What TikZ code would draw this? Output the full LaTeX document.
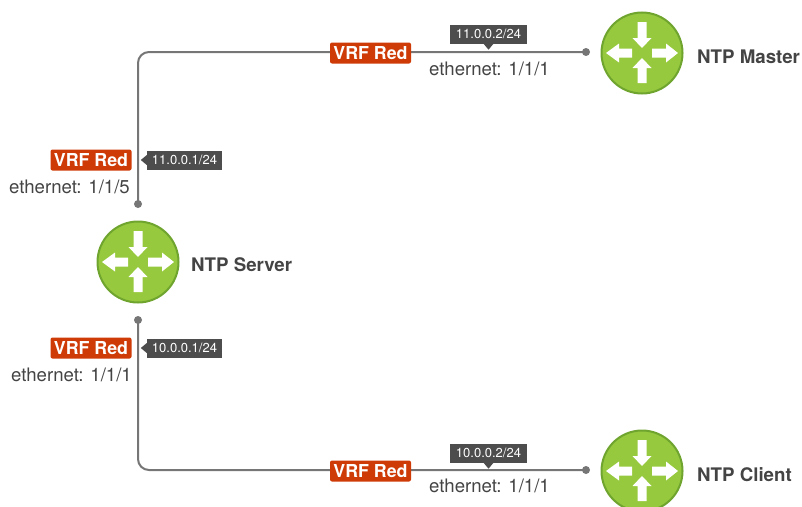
\documentclass[tikz,border=0pt]{standalone}
\usepackage{fontspec}
\setmainfont{TeX Gyre Heros}
\definecolor{rgreen}{HTML}{96C93D}
\definecolor{rborder}{HTML}{6FA52F}
\definecolor{vrfred}{HTML}{CE3B06}
\definecolor{tagdark}{HTML}{4D4D4D}
\definecolor{linegray}{HTML}{767676}
\definecolor{txt}{HTML}{444444}
\tikzset{
  x=1pt,y=-1pt,
  router/.style={circle,draw=rborder,line width=2pt,fill=rgreen,minimum size=81pt,inner sep=0pt},
  rname/.style={anchor=west,inner sep=0pt,text=txt,font=\fontsize{18.7}{20}\selectfont\bfseries},
  vrf/.style={fill=vrfred,rounded corners=2pt,text=white,inner sep=0pt,minimum width=81pt,minimum height=21pt,font=\fontsize{17.8}{20}\selectfont\bfseries},
  tag/.style={fill=tagdark,text=white,inner sep=0pt,minimum height=19pt,font=\fontsize{13}{14}\selectfont},
  eth/.style={inner sep=0pt,text=txt,font=\fontsize{18.6}{20}\selectfont},
  enddot/.style={circle,fill=linegray,inner sep=0pt,minimum size=8pt},
  link/.style={draw=linegray,line width=2pt,rounded corners=11pt},
  ptr/.style={fill=tagdark}
}
\newcommand{\routerarrows}[1]{%
  \fill[white,shift={(#1)}]
    (-4.5,-31)--(4.5,-31)--(4.5,-15)--(9.5,-15)--(0,-5)--(-9.5,-15)--(-4.5,-15)--cycle
    (-4.5,30)--(4.5,30)--(4.5,15)--(9.5,15)--(0,5)--(-9.5,15)--(-4.5,15)--cycle
    (-10,-4.5)--(-10,4.5)--(-23,4.5)--(-23,9.5)--(-36,0)--(-23,-9.5)--(-23,-4.5)--cycle
    (10,-4.5)--(10,4.5)--(24,4.5)--(24,9.5)--(36,0)--(24,-9.5)--(24,-4.5)--cycle;}
\begin{document}
\begin{tikzpicture}
\useasboundingbox (0,0) rectangle (802,506);
\clip (0,0) rectangle (802,506);
\node[router] (server) at (138,262) {};
\node[router] (master) at (642,53) {};
\node[router] (client) at (642,471) {};
\routerarrows{server.center}
\routerarrows{master.center}
\routerarrows{client.center}
\node[rname] (nserver) at (191,264.7) {NTP Server};
\node[rname] (nmaster) at (697,56.7) {NTP Master};
\node[rname] (nclient) at (697,474.7) {NTP Client};
\node[enddot] (d1) at (586,52) {};
\node[enddot] (d2) at (138,204) {};
\node[enddot] (d3) at (138,320) {};
\node[enddot] (d4) at (586,470) {};
\coordinate (c1) at (138,52);
\coordinate (c2) at (138,470);
\draw[link] (d1.center) -- (c1) -- (d2.center);
\draw[link] (d3.center) -- (c2) -- (d4.center);
\node[vrf] (v1) at (370.5,53) {VRF Red};
\node[vrf] (v2) at (91,160) {VRF Red};
\node[vrf] (v3) at (91,348) {VRF Red};
\node[vrf] (v4) at (370.5,471) {VRF Red};
\node[tag,minimum width=77pt] (t1) at (488.5,34) {11.0.0.2/24};
\node[tag,minimum width=75pt] (t2) at (184.5,160) {11.0.0.1/24};
\node[tag,minimum width=75pt] (t3) at (184.5,348) {10.0.0.1/24};
\node[tag,minimum width=77pt] (t4) at (488.5,453) {10.0.0.2/24};
\fill[ptr] ([xshift=-5pt]t1.south) -- ([xshift=5pt]t1.south) -- ([yshift=-6pt]t1.south) -- cycle;
\fill[ptr] ([xshift=-5pt]t4.south) -- ([xshift=5pt]t4.south) -- ([yshift=-6pt]t4.south) -- cycle;
\fill[ptr] ([yshift=-5pt]t2.west) -- ([yshift=5pt]t2.west) -- ([xshift=-6pt]t2.west) -- cycle;
\fill[ptr] ([yshift=-5pt]t3.west) -- ([yshift=5pt]t3.west) -- ([xshift=-6pt]t3.west) -- cycle;
\node[eth] at (489.5,68.5) {ethernet: 1/1/1};
\node[eth,anchor=east] at (130,186.5) {ethernet: 1/1/5};
\node[eth,anchor=east] at (132,374.5) {ethernet: 1/1/1};
\node[eth] at (489.5,485.5) {ethernet: 1/1/1};
\end{tikzpicture}
\end{document}
